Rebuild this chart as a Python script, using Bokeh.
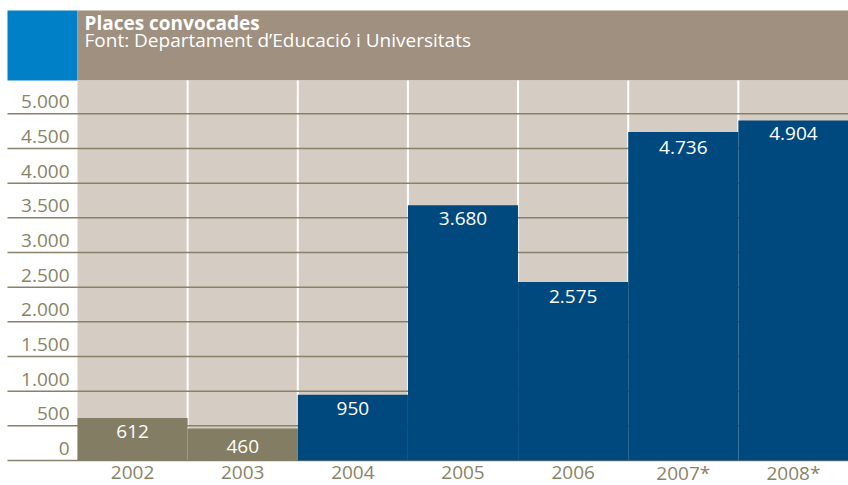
from bokeh.plotting import figure
from bokeh.models import Range1d
from bokeh.core.properties import value
from bokeh.embed import file_html
from bokeh.resources import INLINE

# ---- data ----
years = ["2002", "2003", "2004", "2005", "2006", "2007*", "2008*"]
places = [612, 460, 950, 3680, 2575, 4736, 4904]
bar_colors = ["#837D63", "#837D63", "#00497E", "#00497E", "#00497E", "#00497E", "#00497E"]
y_ticks = [0, 500, 1000, 1500, 2000, 2500, 3000, 3500, 4000, 4500, 5000]
title = "Places convocades"
subtitle = "Font: Departament d\u2019Educaci\u00f3 i Universitats"


def fmt(v):
    return f"{v:,}".replace(",", ".")


# ---- geometry (pixels relative to the figure) ----
W, H = 848, 485
LEFT_EDGE = 7           # left edge of header / gridlines
PLOT_LEFT = 77          # where the first column starts
ZERO_Y = 460            # pixel row (from top) of value 0
PX_PER_UNIT = 346.7 / 5000
COL_W = (W - PLOT_LEFT) / len(years)
HEADER_TOP = 10
HEADER_BOTTOM = 80


def xv(px):
    return (px - PLOT_LEFT) / COL_W


def yv(px):
    return (ZERO_Y - px) / PX_PER_UNIT


x_start, x_end = xv(0), float(len(years))
y_start, y_end = yv(H), yv(0)

FONT = value("Open Sans")
TICK_COLOR = "#878467"
GRID_COLOR = "#878169"

p = figure(width=W, height=H, x_range=Range1d(x_start, x_end), y_range=Range1d(y_start, y_end),
           output_backend="svg", toolbar_location=None, min_border=0,
           x_axis_type=None, y_axis_type=None)
p.outline_line_color = None
p.background_fill_color = "white"
p.border_fill_color = "white"

idx = list(range(len(years)))
head_top_v = yv(HEADER_TOP)
head_bottom_v = yv(HEADER_BOTTOM)
left_v = xv(LEFT_EDGE)

# header boxes
p.quad(left=[left_v], right=[0], bottom=[head_bottom_v], top=[head_top_v],
       fill_color="#0080C6", line_color=None)
p.quad(left=[0], right=[x_end], bottom=[head_bottom_v], top=[head_top_v],
       fill_color="#A09080", line_color=None)

# gray background columns with white separators
p.quad(left=idx, right=[i + 1 for i in idx], bottom=[0] * len(idx), top=[head_bottom_v] * len(idx),
       fill_color="#D5CCC3", line_color=None)
sep = idx[1:]
p.segment(x0=sep, x1=sep, y0=[0] * len(sep), y1=[head_bottom_v] * len(sep),
          line_color="white", line_width=2)

# gridlines
p.segment(x0=[left_v] * len(y_ticks), x1=[x_end] * len(y_ticks), y0=y_ticks, y1=y_ticks,
          line_color=GRID_COLOR, line_width=1.5)

# bars
p.quad(left=idx, right=[i + 1 for i in idx], bottom=[0] * len(idx), top=places,
       fill_color=bar_colors, line_color=None)

# bar labels
p.text(x=[i + 0.5 for i in idx], y=places, text=[fmt(v) for v in places],
       text_color="white", text_font=FONT, text_font_size="19px",
       text_align="center", text_baseline="middle", y_offset=[13, 18, 14, 13, 15, 15, 13])

# y tick labels
p.text(x=[xv(69)] * len(y_ticks), y=y_ticks, text=[fmt(v) for v in y_ticks],
       text_color=TICK_COLOR, text_font=FONT, text_font_size="19px",
       text_align="right", text_baseline="middle", y_offset=-12)

# x category labels
p.text(x=[i + 0.5 for i in idx], y=[0] * len(idx), text=years,
       text_color=TICK_COLOR, text_font=FONT, text_font_size="19px",
       text_align="center", text_baseline="middle", y_offset=12)

# header texts
p.text(x=[xv(84)], y=[yv(22)], text=[title], text_color="white", text_font=FONT,
       text_font_size="19px", text_font_style="bold", text_align="left", text_baseline="middle")
p.text(x=[xv(84)], y=[yv(39)], text=[subtitle], text_color="white", text_font=FONT,
       text_font_size="19px", text_align="left", text_baseline="middle")

open("out.html", "w").write(file_html(p, INLINE))
